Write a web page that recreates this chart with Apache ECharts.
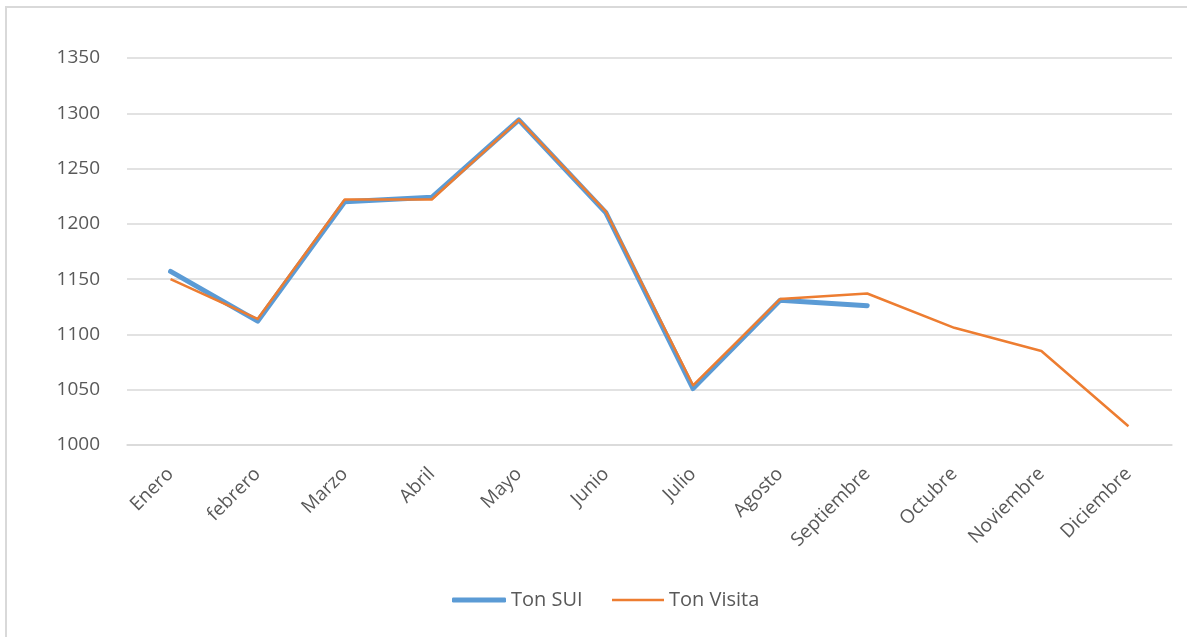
<!DOCTYPE html>
<html>
<head>
<meta charset="utf-8">
<script src="https://cdn.jsdelivr.net/npm/echarts@6/dist/echarts.min.js"></script>
<style>
  html, body { margin: 0; padding: 0; background: #fff; }
  #chart { width: 1187px; height: 637px; }
</style>
</head>
<body>
<div id="chart"></div>
<script>
const months = ['Enero', 'febrero', 'Marzo', 'Abril', 'Mayo', 'Junio', 'Julio', 'Agosto', 'Septiembre', 'Octubre', 'Noviembre', 'Diciembre'];
const tonSUI = [1157, 1112, 1220, 1224, 1294, 1210, 1051, 1131, 1126, null, null, null];
const tonVisita = [1150, 1114, 1222, 1222, 1294, 1211, 1054, 1132, 1137, 1106, 1085, 1017];

const font = '"Open Sans", "Liberation Sans", sans-serif';
const legendText = { color: '#595959', fontSize: 20, lineHeight: 20, fontFamily: font };
const chart = echarts.init(document.getElementById('chart'));

chart.setOption({
  animation: false,
  textStyle: { fontFamily: font },
  graphic: [{
    type: 'rect',
    shape: { x: 6, y: 7, width: 1300, height: 700 },
    style: { fill: 'none', stroke: '#d9d9d9', lineWidth: 2 },
    silent: true
  }],
  grid: { left: 127, right: 15, top: 58, bottom: 192 },
  legend: [
    {
      left: 447,
      top: 585,
      icon: 'roundRect',
      itemWidth: 54,
      itemHeight: 5,
      textStyle: legendText,
      data: ['Ton SUI']
    },
    {
      left: 607,
      top: 585,
      icon: 'rect',
      itemWidth: 52,
      itemHeight: 2.5,
      textStyle: legendText,
      data: ['Ton Visita']
    }
  ],
  xAxis: {
    type: 'category',
    data: months,
    axisLine: { show: true, lineStyle: { color: '#d9d9d9', width: 1.5 } },
    axisTick: { show: false },
    axisLabel: { rotate: 45, margin: 26, color: '#595959', fontSize: 19, fontFamily: font, interval: 0 }
  },
  yAxis: {
    type: 'value',
    min: 1000,
    max: 1350,
    interval: 50,
    axisLine: { show: false },
    axisTick: { show: false },
    axisLabel: { margin: 27, color: '#595959', fontSize: 19, fontFamily: font, formatter: v => String(v) },
    splitLine: { lineStyle: { color: '#d9d9d9', width: 1.5 } }
  },
  series: [
    {
      name: 'Ton SUI',
      type: 'line',
      data: tonSUI,
      showSymbol: false,
      symbol: 'none',
      color: '#5b9bd5',
      lineStyle: { color: '#5b9bd5', width: 5, cap: 'round', join: 'round' },
      z: 2
    },
    {
      name: 'Ton Visita',
      type: 'line',
      data: tonVisita,
      showSymbol: false,
      symbol: 'none',
      color: '#ed7d31',
      lineStyle: { color: '#ed7d31', width: 2.5, join: 'round' },
      z: 3
    }
  ]
});
</script>
</body>
</html>
